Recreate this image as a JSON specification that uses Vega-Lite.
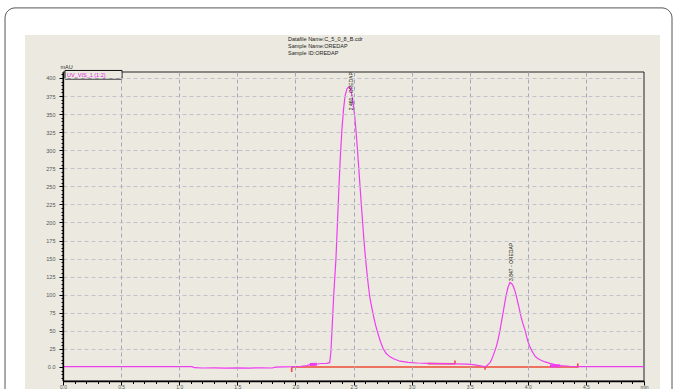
{
  "$schema": "https://vega.github.io/schema/vega-lite/v6.json",
  "autosize": {"type": "none"},
  "width": 581,
  "height": 309,
  "padding": {"left": 63, "top": 72, "right": 33, "bottom": 8},
  "background": "#ffffff",
  "datasets": {
    "trace": [
      {"t": 0.00, "v": 0.5}, {"t": 0.30, "v": 0.5}, {"t": 0.60, "v": 0.4}, {"t": 0.90, "v": 0.5},
      {"t": 1.11, "v": 0.5}, {"t": 1.13, "v": -1.0}, {"t": 1.20, "v": -1.4}, {"t": 1.30, "v": -1.1},
      {"t": 1.40, "v": -1.5}, {"t": 1.50, "v": -1.2}, {"t": 1.60, "v": -1.5}, {"t": 1.70, "v": -1.1},
      {"t": 1.80, "v": -1.4}, {"t": 1.83, "v": -0.2}, {"t": 1.90, "v": 0.2}, {"t": 2.00, "v": 0.5},
      {"t": 2.05, "v": 1.0}, {"t": 2.10, "v": 2.0}, {"t": 2.13, "v": 3.5}, {"t": 2.18, "v": 3.8},
      {"t": 2.22, "v": 4.8}, {"t": 2.27, "v": 5.0}, {"t": 2.295, "v": 6}, {"t": 2.305, "v": 20},
      {"t": 2.315, "v": 51}, {"t": 2.33, "v": 100}, {"t": 2.349, "v": 150}, {"t": 2.362, "v": 200},
      {"t": 2.375, "v": 250}, {"t": 2.388, "v": 295}, {"t": 2.401, "v": 330}, {"t": 2.414, "v": 356},
      {"t": 2.427, "v": 375}, {"t": 2.444, "v": 385}, {"t": 2.461, "v": 388}, {"t": 2.474, "v": 385},
      {"t": 2.487, "v": 376}, {"t": 2.50, "v": 362}, {"t": 2.513, "v": 343}, {"t": 2.526, "v": 318},
      {"t": 2.539, "v": 290}, {"t": 2.552, "v": 260}, {"t": 2.565, "v": 230}, {"t": 2.578, "v": 201},
      {"t": 2.59, "v": 175}, {"t": 2.603, "v": 151}, {"t": 2.616, "v": 130}, {"t": 2.629, "v": 111},
      {"t": 2.642, "v": 95}, {"t": 2.66, "v": 80}, {"t": 2.677, "v": 67}, {"t": 2.69, "v": 58},
      {"t": 2.702, "v": 51}, {"t": 2.73, "v": 36}, {"t": 2.754, "v": 26}, {"t": 2.78, "v": 19},
      {"t": 2.814, "v": 14}, {"t": 2.85, "v": 11}, {"t": 2.90, "v": 8}, {"t": 2.97, "v": 6.5},
      {"t": 3.05, "v": 5.5}, {"t": 3.133, "v": 5.0}, {"t": 3.25, "v": 4.6}, {"t": 3.373, "v": 4.3},
      {"t": 3.477, "v": 4.0}, {"t": 3.53, "v": 3.2}, {"t": 3.58, "v": 2.0}, {"t": 3.614, "v": 1.0},
      {"t": 3.635, "v": 0.3}, {"t": 3.649, "v": 2}, {"t": 3.662, "v": 4}, {"t": 3.675, "v": 6},
      {"t": 3.688, "v": 10}, {"t": 3.70, "v": 15}, {"t": 3.716, "v": 22}, {"t": 3.732, "v": 30},
      {"t": 3.747, "v": 40}, {"t": 3.761, "v": 51}, {"t": 3.774, "v": 63}, {"t": 3.787, "v": 75},
      {"t": 3.80, "v": 87}, {"t": 3.812, "v": 98}, {"t": 3.829, "v": 110}, {"t": 3.847, "v": 117},
      {"t": 3.864, "v": 115}, {"t": 3.877, "v": 111}, {"t": 3.89, "v": 105}, {"t": 3.903, "v": 97},
      {"t": 3.916, "v": 88}, {"t": 3.929, "v": 79}, {"t": 3.941, "v": 70}, {"t": 3.958, "v": 60},
      {"t": 3.976, "v": 51}, {"t": 3.99, "v": 42}, {"t": 4.002, "v": 35}, {"t": 4.018, "v": 28},
      {"t": 4.033, "v": 23}, {"t": 4.047, "v": 19}, {"t": 4.062, "v": 15}, {"t": 4.083, "v": 12},
      {"t": 4.105, "v": 10}, {"t": 4.148, "v": 7}, {"t": 4.191, "v": 5}, {"t": 4.243, "v": 3},
      {"t": 4.277, "v": 2}, {"t": 4.36, "v": 1}, {"t": 4.45, "v": 0.5}, {"t": 4.60, "v": 0.4},
      {"t": 4.80, "v": 0.5}, {"t": 5.00, "v": 0.5}
    ],
    "baseline": [
      {"seg": "A", "t": 1.968, "v": 0}, {"seg": "A", "t": 4.43, "v": 0},
      {"seg": "B", "t": 3.14, "v": 4.7}, {"seg": "B", "t": 3.373, "v": 4.5},
      {"seg": "C", "t": 1.968, "v": -0.5}, {"seg": "C", "t": 1.968, "v": -7},
      {"seg": "D", "t": 3.373, "v": 4}, {"seg": "D", "t": 3.373, "v": 9},
      {"seg": "E", "t": 3.632, "v": 0}, {"seg": "E", "t": 3.632, "v": -4},
      {"seg": "F", "t": 4.43, "v": -1}, {"seg": "F", "t": 4.43, "v": 5}
    ],
    "delims": [
      {"seg": "P1", "t": 2.125, "v": 3.5}, {"seg": "P1", "t": 2.185, "v": 3.8},
      {"seg": "P2", "t": 4.19, "v": 1.5}, {"seg": "P2", "t": 4.28, "v": 1.5}
    ],
    "peaks": [
      {"t": 2.475, "v": 408, "label": "2.460 - OREDAP", "pos": "top"},
      {"t": 3.855, "v": 119, "label": "3.847 - OREDAP", "pos": "bottom"}
    ]
  },
  "config": {
    "font": "Liberation Sans",
    "view": {"stroke": null}
  },
  "layer": [
    {
      "data": {"values": [{}]},
      "mark": {"type": "rect", "fill": "#ffffff", "stroke": "#555555", "strokeWidth": 1, "cornerRadius": 10, "clip": false},
      "encoding": {
        "x": {"datum": -0.499, "type": "quantitative", "scale": {"domain": [0, 5], "nice": false, "zero": false},
          "axis": {
            "orient": "bottom",
            "zindex": 1,
            "title": null,
            "tickCount": 200,
            "values": [0,0.1,0.2,0.3,0.4,0.5,0.6,0.7,0.8,0.9,1,1.1,1.2,1.3,1.4,1.5,1.6,1.7,1.8,1.9,2,2.1,2.2,2.3,2.4,2.5,2.6,2.7,2.8,2.9,3,3.1,3.2,3.3,3.4,3.5,3.6,3.7,3.8,3.9,4,4.1,4.2,4.3,4.4,4.5,4.6,4.7,4.8,4.9,5],
            "domainColor": "#000000",
            "domainWidth": 1.3,
            "tickColor": "#000000",
            "tickWidth": 1,
            "tickSize": {"condition": {"test": "abs(datum.value*2 - round(datum.value*2)) < 0.001", "value": 4}, "value": 2.5},
            "labelExpr": "datum.value > 4.99 ? 'min' : (abs(datum.value*2 - round(datum.value*2)) < 0.001 ? format(datum.value, '.1f') : '')",
            "labelFontSize": 5,
            "labelColor": "#555555",
            "labelPadding": -1,
            "labelOverlap": false,
            "labelFlush": false,
            "labelBound": false,
            "grid": true,
            "gridColor": "#A6A6BA",
            "gridDash": [4, 3],
            "gridWidth": 1,
            "gridOpacity": {"condition": {"test": "abs(datum.value*2 - round(datum.value*2)) < 0.001 && datum.value > 0.01 && datum.value < 4.99", "value": 1}, "value": 0}
          }
        },
        "x2": {"datum": 5.241},
        "y": {"datum": 497, "type": "quantitative", "scale": {"domain": [-19.4, 408.3], "nice": false, "zero": false},
          "axis": {
            "orient": "left",
            "zindex": 1,
            "title": "mAU",
            "titleAngle": 0,
            "titleX": -3,
            "titleY": -3,
            "titleAlign": "left",
            "titleBaseline": "bottom",
            "titleFontSize": 5.5,
            "titleFontWeight": "normal",
            "titleColor": "#333333",
            "tickCount": 200,
            "values": [-15,-10,-5,0,5,10,15,20,25,30,35,40,45,50,55,60,65,70,75,80,85,90,95,100,105,110,115,120,125,130,135,140,145,150,155,160,165,170,175,180,185,190,195,200,205,210,215,220,225,230,235,240,245,250,255,260,265,270,275,280,285,290,295,300,305,310,315,320,325,330,335,340,345,350,355,360,365,370,375,380,385,390,395,400,405],
            "domainColor": "#000000",
            "domainWidth": 1.3,
            "tickColor": "#000000",
            "tickWidth": 1,
            "tickSize": {"condition": {"test": "datum.value % 25 === 0", "value": 4}, "value": 2},
            "labelExpr": "datum.value % 25 === 0 && datum.value >= 0 ? (datum.value === 0 ? '0.0' : format(datum.value, 'd')) : ''",
            "labelFontSize": 5.5,
            "labelColor": "#555555",
            "labelPadding": 4,
            "labelOverlap": false,
            "labelFlush": false,
            "labelBound": false,
            "grid": true,
            "gridColor": "#C2C2CC",
            "gridDash": [4, 3],
            "gridWidth": 1,
            "gridOpacity": {"condition": {"test": "datum.value % 25 === 0 && datum.value > 0", "value": 1}, "value": 0}
          }
        },
        "y2": {"datum": -45}
      }
    },
    {
      "data": {"values": [{}]},
      "mark": {"type": "rect", "fill": "#ECEAE0", "clip": false},
      "encoding": {
        "x": {"datum": -0.327, "type": "quantitative"},
        "x2": {"datum": 5.138},
        "y": {"datum": 459.5, "type": "quantitative"},
        "y2": {"datum": -40}
      }
    },
    {
      "data": {"values": [{}]},
      "mark": {"type": "text", "align": "left", "baseline": "top", "fontSize": 5.5, "lineHeight": 7.3, "color": "#222222", "clip": false},
      "encoding": {
        "x": {"datum": 1.936, "type": "quantitative"},
        "y": {"datum": 457, "type": "quantitative"},
        "text": {"value": ["Datafile Name:C_5_0_8_B.cdr", "Sample Name:OREDAP", "Sample ID:OREDAP"]}
      }
    },
    {
      "data": {"values": [{}]},
      "mark": {"type": "rect", "fill": null, "filled": false, "stroke": "#222222", "strokeWidth": 1, "clip": false},
      "encoding": {
        "x": {"datum": 0, "type": "quantitative"},
        "x2": {"datum": 5},
        "y": {"datum": -19.4, "type": "quantitative"},
        "y2": {"datum": 408.3}
      }
    },
    {
      "data": {"name": "baseline"},
      "mark": {"type": "line", "color": "#EE4A36", "strokeWidth": 1.6, "clip": false},
      "encoding": {
        "x": {"field": "t", "type": "quantitative"},
        "y": {"field": "v", "type": "quantitative"},
        "detail": {"field": "seg"}
      }
    },
    {
      "data": {"name": "trace"},
      "mark": {"type": "line", "color": "#F03CF0", "strokeWidth": 1.2},
      "encoding": {
        "x": {"field": "t", "type": "quantitative"},
        "y": {"field": "v", "type": "quantitative"}
      }
    },
    {
      "data": {"name": "delims"},
      "mark": {"type": "line", "color": "#F03CF0", "strokeWidth": 3},
      "encoding": {
        "x": {"field": "t", "type": "quantitative"},
        "y": {"field": "v", "type": "quantitative"},
        "detail": {"field": "seg"}
      }
    },
    {
      "data": {"name": "peaks"},
      "transform": [{"filter": "datum.pos === 'top'"}],
      "mark": {"type": "text", "angle": 270, "align": "right", "baseline": "middle", "fontSize": 5, "color": "#111111", "clip": false},
      "encoding": {
        "x": {"field": "t", "type": "quantitative"},
        "y": {"field": "v", "type": "quantitative"},
        "text": {"field": "label"}
      }
    },
    {
      "data": {"name": "peaks"},
      "transform": [{"filter": "datum.pos === 'bottom'"}],
      "mark": {"type": "text", "angle": 270, "align": "left", "baseline": "middle", "fontSize": 5, "color": "#111111", "clip": false},
      "encoding": {
        "x": {"field": "t", "type": "quantitative"},
        "y": {"field": "v", "type": "quantitative"},
        "text": {"field": "label"}
      }
    },
    {
      "data": {"values": [{}]},
      "mark": {"type": "rect", "fill": "#ECEAE0", "stroke": "#111111", "strokeWidth": 1, "clip": false},
      "encoding": {
        "x": {"datum": 0.017, "type": "quantitative"},
        "x2": {"datum": 0.508},
        "y": {"datum": 410.4, "type": "quantitative"},
        "y2": {"datum": 398.5}
      }
    },
    {
      "data": {"values": [{}]},
      "mark": {"type": "text", "align": "left", "baseline": "middle", "fontSize": 5.5, "color": "#E020E0", "clip": false},
      "encoding": {
        "x": {"datum": 0.035, "type": "quantitative"},
        "y": {"datum": 404.5, "type": "quantitative"},
        "text": {"value": "UV_VIS_1 (1:2)"}
      }
    }
  ]
}
